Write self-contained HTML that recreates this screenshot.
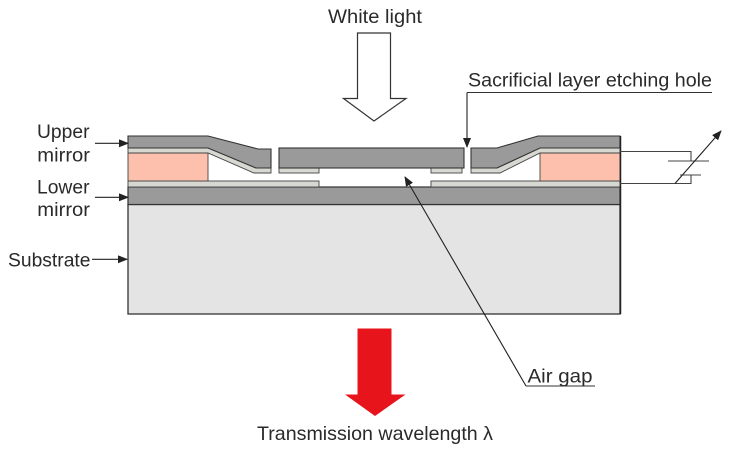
<!DOCTYPE html>
<html><head><meta charset="utf-8"><style>
html,body{margin:0;padding:0;background:#fff;}
svg{display:block;}
text{font-family:"Liberation Sans",Arial,sans-serif;fill:#2a2a2a;}
</style></head><body>
<svg width="740" height="456" viewBox="0 0 740 456" xmlns="http://www.w3.org/2000/svg">
<defs>
<marker id="ah" markerWidth="10" markerHeight="8" refX="9" refY="4" orient="auto" markerUnits="userSpaceOnUse">
<path d="M0,0 L10,4 L0,8 z" fill="#222"/>
</marker>
</defs>

<!-- substrate -->
<rect x="128" y="204.5" width="492" height="109.5" fill="#e4e4e4" stroke="#333" stroke-width="1.3"/>
<!-- lower mirror dark band -->
<rect x="128" y="187" width="492" height="17.5" fill="#9a9a9a" stroke="#333" stroke-width="1.2"/>
<!-- lower mirror light strips -->
<rect x="128" y="181" width="191" height="6" fill="#d8d8d2" stroke="#444" stroke-width="0.9"/>
<rect x="431" y="181" width="189" height="6" fill="#d8d8d2" stroke="#444" stroke-width="0.9"/>

<!-- pink spacers -->
<rect x="128" y="153" width="80" height="28" fill="#fcc0ad" stroke="#444" stroke-width="0.9"/>
<rect x="540" y="153" width="80" height="28" fill="#fcc0ad" stroke="#444" stroke-width="0.9"/>

<!-- left upper mirror -->
<polygon points="128,148 208,148 256,168 271,168 271,173 254,173 208,153 128,153" fill="#d8d8d2" stroke="#444" stroke-width="0.9"/>
<polygon points="128,136 208,136 258,149 271,149 271,168 256,168 208,148 128,148" fill="#9a9a9a" stroke="#333" stroke-width="1.1"/>

<!-- center upper mirror -->
<rect x="279" y="168" width="40" height="5" fill="#d8d8d2" stroke="#444" stroke-width="0.9"/>
<rect x="431" y="168" width="31" height="5" fill="#d8d8d2" stroke="#444" stroke-width="0.9"/>
<rect x="279" y="148" width="185" height="20" fill="#9a9a9a" stroke="#333" stroke-width="1.1"/>

<!-- right upper mirror -->
<polygon points="471,168 497,168 540,148 620,148 620,153 540,153 500,173 471,173" fill="#d8d8d2" stroke="#444" stroke-width="0.9"/>
<polygon points="471,148 497,148 538,136 620,136 620,148 540,148 497,168 471,168" fill="#9a9a9a" stroke="#333" stroke-width="1.1"/>
<line x1="620.5" y1="136" x2="620.5" y2="314" stroke="#222" stroke-width="1.5"/>

<!-- electrical connection / variable capacitor -->
<polyline points="620,151.5 691,151.5 691,161" fill="none" stroke="#444" stroke-width="1.1"/>
<line x1="668" y1="161" x2="709" y2="161" stroke="#444" stroke-width="1.1"/>
<line x1="680" y1="175" x2="701" y2="175" stroke="#444" stroke-width="1.1"/>
<polyline points="691,175 691,183.5 620,183.5" fill="none" stroke="#444" stroke-width="1.1"/>
<line x1="675" y1="183.5" x2="721" y2="131" stroke="#222" stroke-width="1.1" marker-end="url(#ah)"/>

<!-- white light arrow -->
<polygon points="357.5,33 390.5,33 390.5,98.5 406,98.5 374,121 343.5,98.5 357.5,98.5" fill="#fff" stroke="#333" stroke-width="1.2"/>
<text x="328" y="23" font-size="19.5" textLength="94" lengthAdjust="spacingAndGlyphs">White light</text>

<!-- etching hole label -->
<text x="468" y="86.5" font-size="19.5" textLength="244" lengthAdjust="spacingAndGlyphs">Sacrificial layer etching hole</text>
<polyline points="712,92.5 467,92.5" fill="none" stroke="#333" stroke-width="1.1"/>
<line x1="467" y1="92.5" x2="467" y2="147" stroke="#222" stroke-width="1.1" marker-end="url(#ah)"/>

<!-- left labels -->
<text x="37" y="138" font-size="19.5" textLength="52.5" lengthAdjust="spacingAndGlyphs">Upper</text>
<text x="37.3" y="161.5" font-size="19.5" textLength="52.7" lengthAdjust="spacingAndGlyphs">mirror</text>
<line x1="95" y1="143.3" x2="128" y2="143.3" stroke="#222" stroke-width="1.1" marker-end="url(#ah)"/>
<text x="37" y="193.3" font-size="19.5" textLength="52.5" lengthAdjust="spacingAndGlyphs">Lower</text>
<text x="37.3" y="216" font-size="19.5" textLength="52.7" lengthAdjust="spacingAndGlyphs">mirror</text>
<line x1="95" y1="197.3" x2="128" y2="197.3" stroke="#222" stroke-width="1.1" marker-end="url(#ah)"/>
<text x="8" y="266.5" font-size="19.5" textLength="82.5" lengthAdjust="spacingAndGlyphs">Substrate</text>
<line x1="92" y1="259.3" x2="127" y2="259.3" stroke="#222" stroke-width="1.1" marker-end="url(#ah)"/>

<!-- air gap -->
<line x1="526" y1="386" x2="405" y2="177" stroke="#222" stroke-width="1.1" marker-end="url(#ah)"/>
<line x1="526" y1="386" x2="595" y2="386" stroke="#333" stroke-width="1.1"/>
<text x="527.5" y="382.5" font-size="19.5" textLength="65" lengthAdjust="spacingAndGlyphs">Air gap</text>

<!-- red arrow -->
<polygon points="357.5,328.5 391.5,328.5 391.5,394.5 405.5,394.5 375,416 345,394.5 357.5,394.5" fill="#e8141c"/>
<text x="257" y="440" font-size="19.5" textLength="236" lengthAdjust="spacingAndGlyphs">Transmission wavelength λ</text>
</svg>
</body></html>
